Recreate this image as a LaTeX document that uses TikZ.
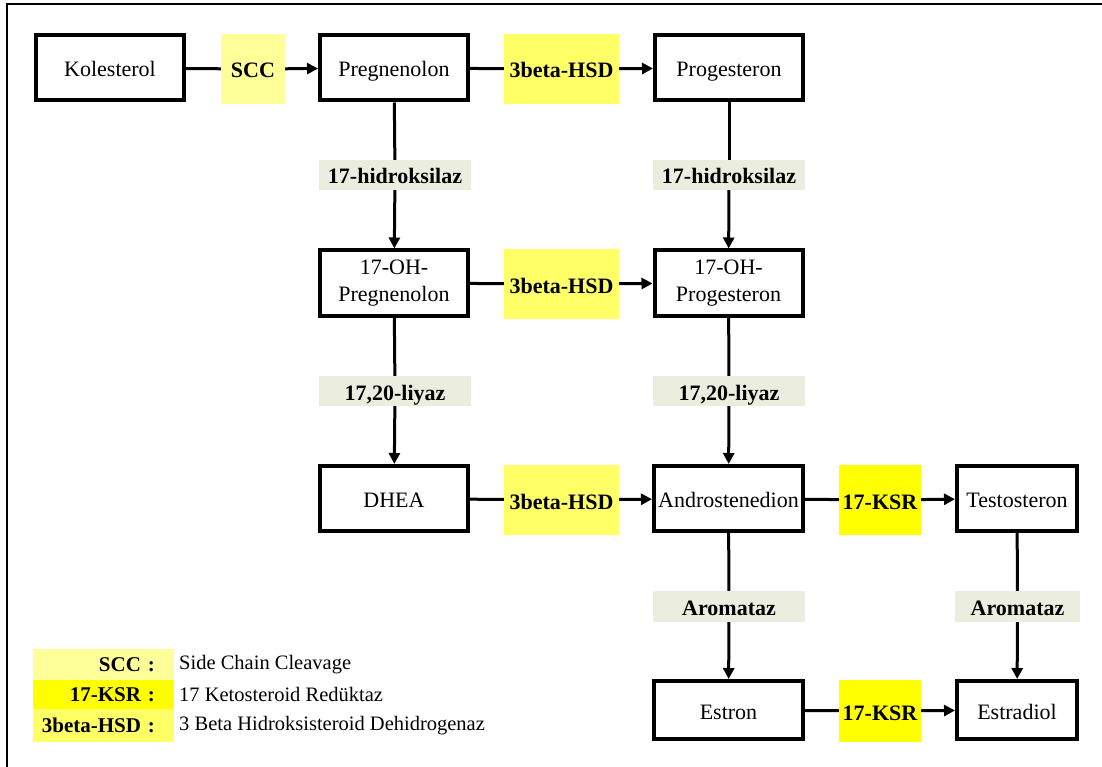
\documentclass[tikz,border=0pt]{standalone}
\usepackage{fontspec}
\setmainfont{Liberation Serif}
\usepackage{tikz}
\usetikzlibrary{arrows.meta,positioning}

\definecolor{sccyellow}{HTML}{FFFF99}
\definecolor{hsdyellow}{HTML}{FFFF66}
\definecolor{ksryellow}{HTML}{FFFF00}
\definecolor{enzgray}{HTML}{EBEEDF}

\tikzset{
  zeile/.style={text height=20pt,text depth=2pt},
  hormon/.style={draw,line width=4pt,minimum width=148pt,minimum height=65pt,
    inner sep=0pt,align=center,font=\fontsize{22}{27}\selectfont},
  enzym/.style={zeile,inner sep=0pt,minimum height=70pt,font=\fontsize{22}{27}\selectfont\bfseries},
  tag/.style={zeile,fill=enzgray,inner sep=0pt,minimum width=152pt,minimum height=30pt,
    font=\fontsize{22}{27}\selectfont\bfseries},
  link/.style={line width=3pt},
  pfeil/.style={line width=3pt,-{Triangle[length=11pt,width=11pt]}},
  key/.style={inner sep=0pt,text width=141pt,align=right,
    execute at end node=\hspace*{19pt},
    font=\fontsize{21}{24}\selectfont\bfseries},
  info/.style={inner sep=0pt,anchor=west,font=\fontsize{20.5}{24}\selectfont}
}

\begin{document}
\begin{tikzpicture}[x=1pt,y=-1pt]

\useasboundingbox (0,0) rectangle (1102,767);
\draw[line width=2.5pt] (7,767) -- (7,4) -- (1102,4);

\node[hormon,zeile] (kol) at (110,68){Kolesterol};
\node[hormon,zeile] (preg) at (394,68){Pregnenolon};
\node[hormon,zeile] (prog) at (729,68){Progesteron};
\node[hormon] (ohpreg) at (394,283){17-OH-\\Pregnenolon};
\node[hormon] (ohprog) at (728.5,283){17-OH-\\Progesteron};
\node[hormon,zeile] (dhea) at (394,498.5){DHEA};
\node[hormon,zeile,minimum width=149pt] (andro) at (728.5,498.5){Androstenedion};
\node[hormon,zeile,minimum width=120pt] (testo) at (1017,498.5){Testosteron};
\node[hormon,zeile,minimum width=149pt,minimum height=58pt] (estron) at (728.5,710){Estron};
\node[hormon,zeile,minimum width=120pt,minimum height=58pt] (estra) at (1017,710){Estradiol};

\node[enzym,fill=sccyellow,minimum width=64pt] (scc) at (253,69){SCC};
\node[enzym,fill=hsdyellow,minimum width=115pt] (hsd1) at (561.5,69){3beta-HSD};
\node[enzym,fill=hsdyellow,minimum width=115pt] (hsd2) at (561.5,284){3beta-HSD};
\node[enzym,fill=hsdyellow,minimum width=115pt] (hsd3) at (561.5,500){3beta-HSD};
\node[enzym,fill=ksryellow,minimum width=82pt] (ksr1) at (880,500){17-KSR};
\node[enzym,fill=ksryellow,minimum width=82pt,minimum height=62pt] (ksr2) at (880,711){17-KSR};

\node[tag] (hid1) at (395,175){17-hidroksilaz};
\node[tag] (hid2) at (729,175){17-hidroksilaz};
\node[tag] (liy1) at (395,391){17,20-liyaz};
\node[tag] (liy2) at (729,391){17,20-liyaz};
\node[tag,minimum height=31pt] (aro1) at (729,606.5){Aromataz};
\node[tag,minimum height=31pt,minimum width=125pt] (aro2) at (1017.5,606.5){Aromataz};

\draw[link] (kol) -- (scc);
\draw[pfeil] (scc) -- (preg);
\draw[link] (preg) -- (hsd1);
\draw[pfeil] (hsd1) -- (prog);
\draw[link] (ohpreg) -- (hsd2);
\draw[pfeil] (hsd2) -- (ohprog);
\draw[link] (dhea) -- (hsd3);
\draw[pfeil] (hsd3) -- (andro);
\draw[link] (andro) -- (ksr1);
\draw[pfeil] (ksr1) -- (testo);
\draw[link] (estron) -- (ksr2);
\draw[pfeil] (ksr2) -- (estra);

\draw[link] (preg) -- (hid1);
\draw[pfeil] (hid1) -- (ohpreg);
\draw[link] (prog) -- (hid2);
\draw[pfeil] (hid2) -- (ohprog);
\draw[link] (ohpreg) -- (liy1);
\draw[pfeil] (liy1) -- (dhea);
\draw[link] (ohprog) -- (liy2);
\draw[pfeil] (liy2) -- (andro);
\draw[link] (andro) -- (aro1);
\draw[pfeil] (aro1) -- (estron);
\draw[link] (testo) -- (aro2);
\draw[pfeil] (aro2) -- (estra);

% legend
\node[key,fill=sccyellow,minimum height=31pt] (k1) at (103.5,664.5){SCC :};
\node[key,fill=ksryellow,minimum height=29pt] (k2) at (103.5,694.5){17-KSR :};
\node[key,fill=hsdyellow,minimum height=33pt] (k3) at (103.5,725.5){3beta-HSD :};
\node[info] (i1) at (179,664.5){Side Chain Cleavage};
\node[info] (i2) at (179,694.5){17 Ketosteroid Redüktaz};
\node[info] (i3) at (179,725.5){3 Beta Hidroksisteroid Dehidrogenaz};

\end{tikzpicture}
\end{document}
